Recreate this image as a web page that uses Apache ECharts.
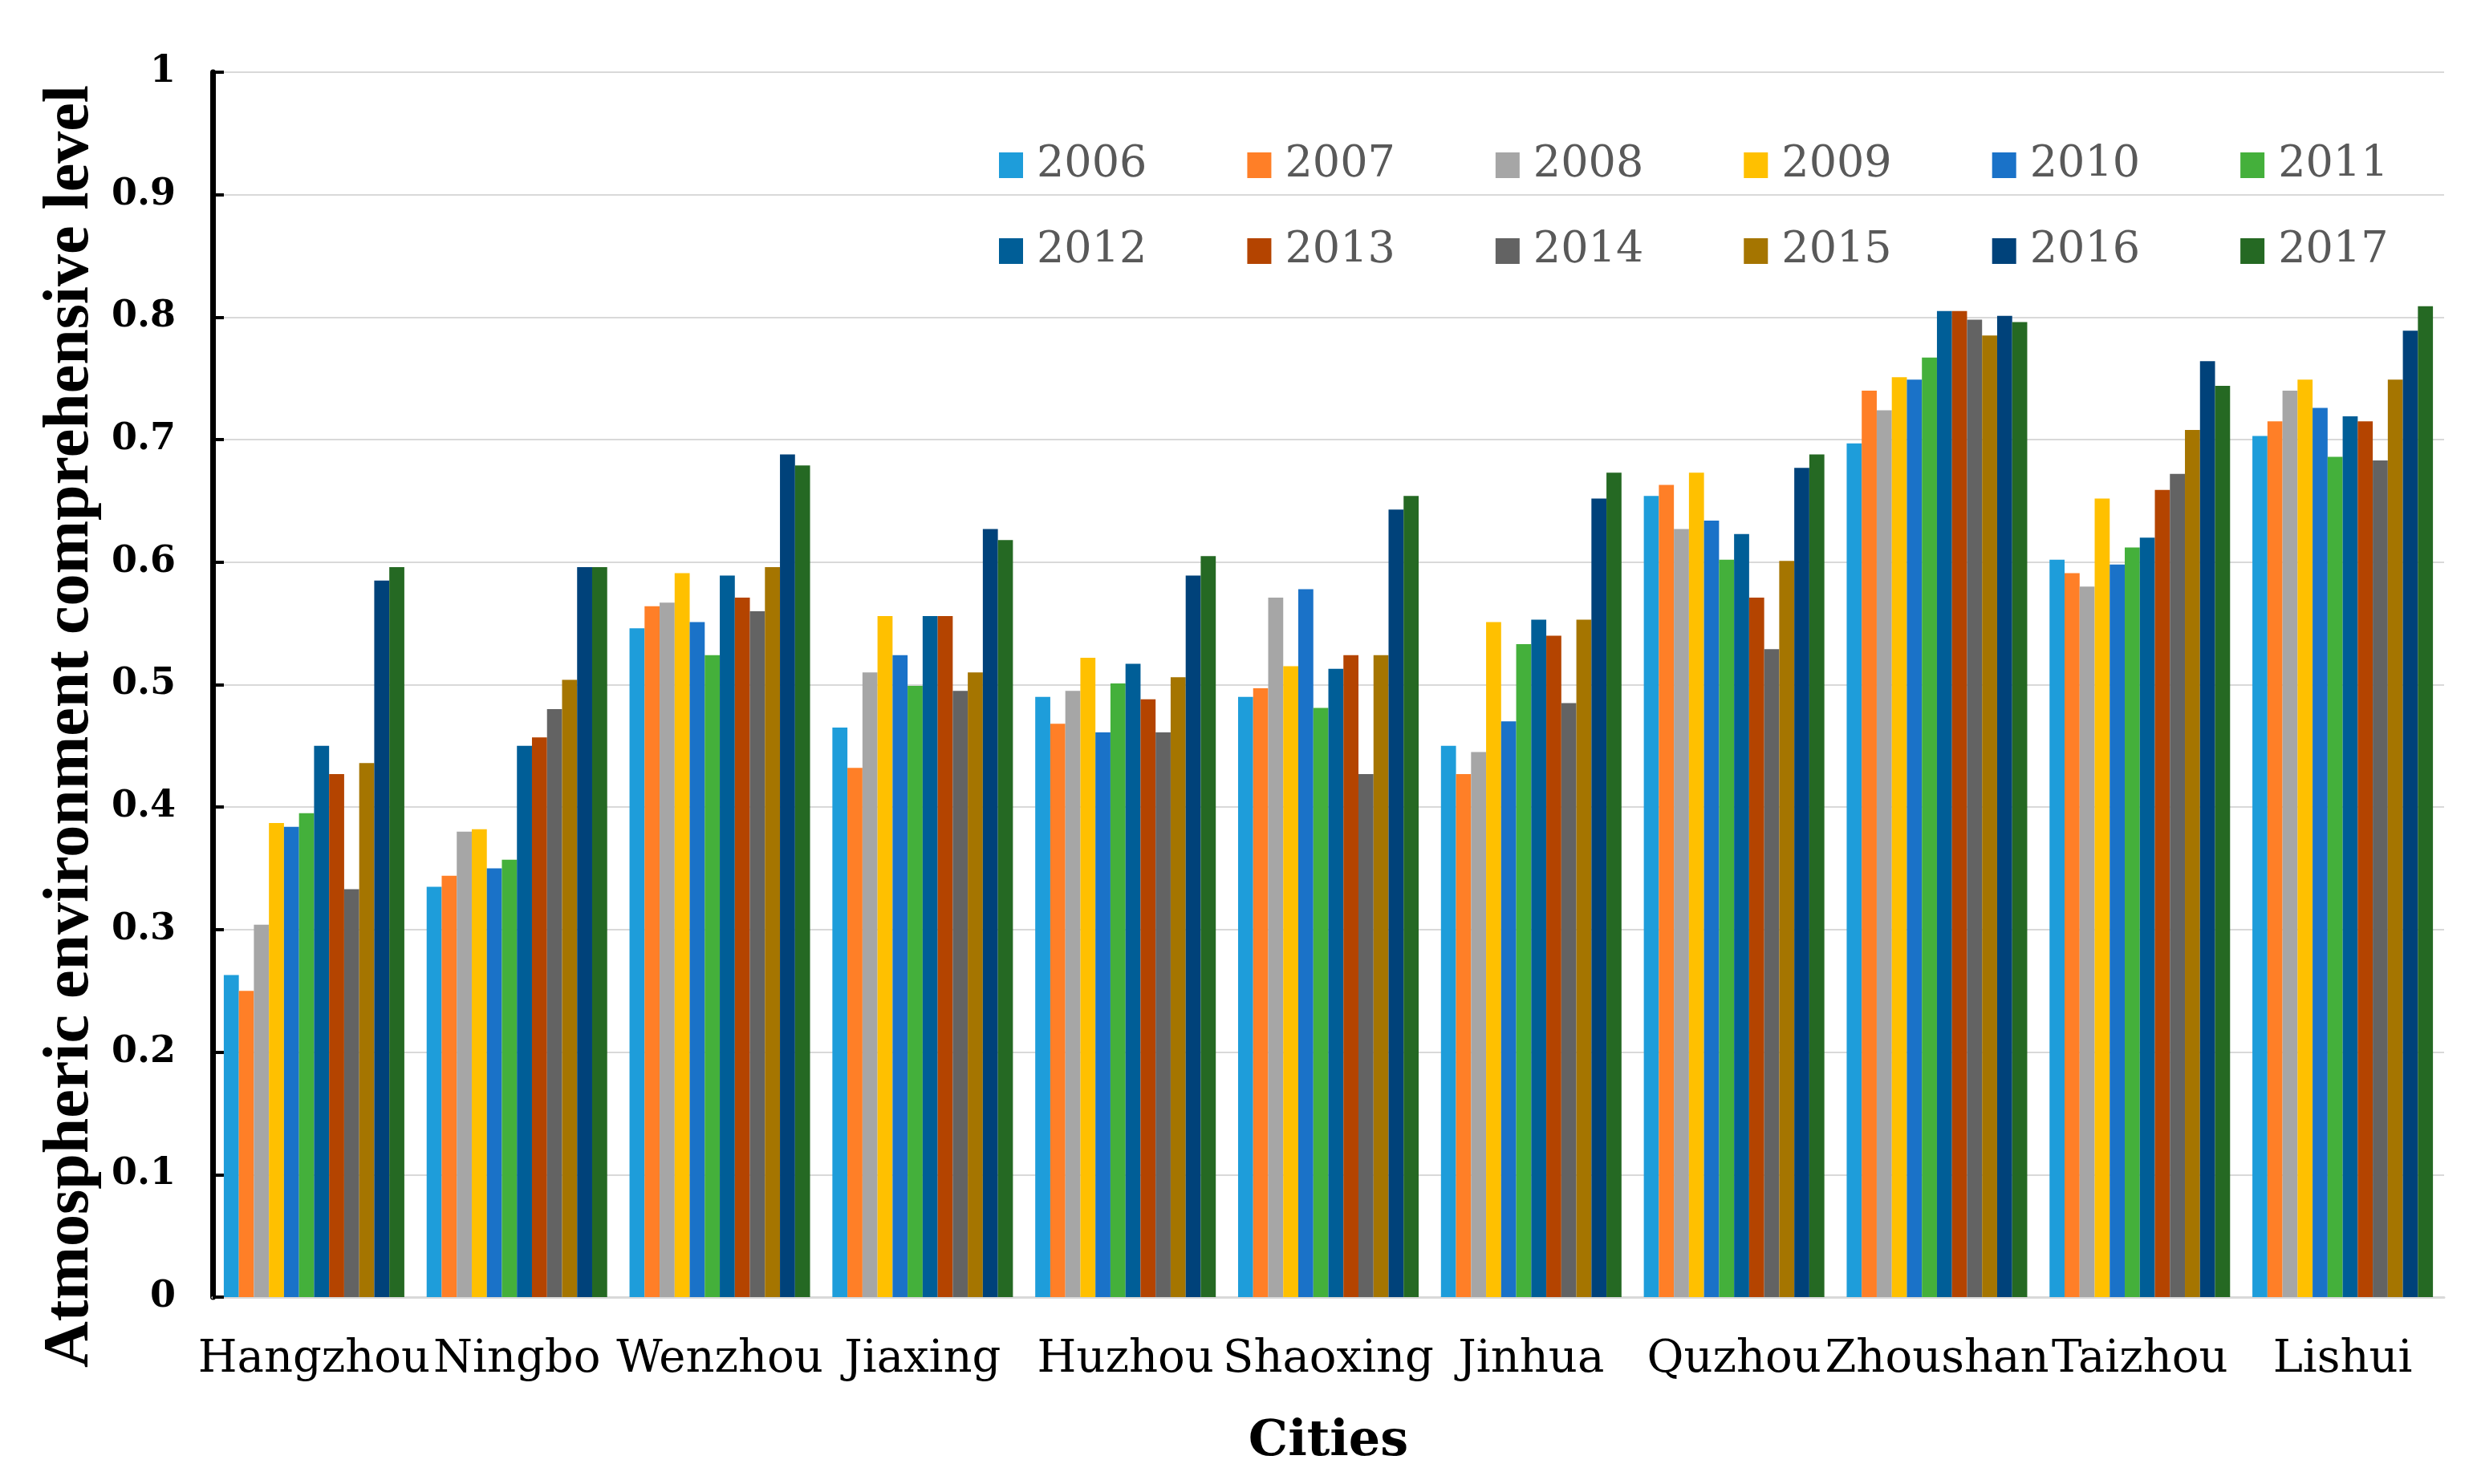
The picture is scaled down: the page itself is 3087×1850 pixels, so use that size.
<!DOCTYPE html>
<html>
<head>
<meta charset="utf-8">
<script src="https://cdn.jsdelivr.net/npm/echarts@6/dist/echarts.min.js"></script>
<style>html,body{margin:0;padding:0;background:#fff}#c{width:3087px;height:1850px}</style>
</head>
<body>
<div id="c"></div>
<script>
const cities = ['Hangzhou','Ningbo','Wenzhou','Jiaxing','Huzhou','Shaoxing','Jinhua','Quzhou','Zhoushan','Taizhou','Lishui'];
const years = ['2006','2007','2008','2009','2010','2011','2012','2013','2014','2015','2016','2017'];
const colors = ['#1E9DDA','#FF7F27','#A6A6A6','#FFC000','#1A72C8','#44B03B','#005E97','#B44400','#636363','#A57500','#00427A','#256923'];
// values per city, 2006..2017
const hangzhou = [0.263,0.250,0.304,0.387,0.384,0.395,0.450,0.427,0.333,0.436,0.585,0.596];
const ningbo   = [0.335,0.344,0.380,0.382,0.350,0.357,0.450,0.457,0.480,0.504,0.596,0.596];
const wenzhou  = [0.546,0.564,0.567,0.591,0.551,0.524,0.589,0.571,0.560,0.596,0.688,0.679];
const jiaxing  = [0.465,0.432,0.510,0.556,0.524,0.499,0.556,0.556,0.495,0.510,0.627,0.618];
const huzhou   = [0.490,0.468,0.495,0.522,0.461,0.501,0.517,0.488,0.461,0.506,0.589,0.605];
const shaoxing = [0.490,0.497,0.571,0.515,0.578,0.481,0.513,0.524,0.427,0.524,0.643,0.654];
const jinhua   = [0.450,0.427,0.445,0.551,0.470,0.533,0.553,0.540,0.485,0.553,0.652,0.673];
const quzhou   = [0.654,0.663,0.627,0.673,0.634,0.602,0.623,0.571,0.529,0.601,0.677,0.688];
const zhoushan = [0.697,0.740,0.724,0.751,0.749,0.767,0.805,0.805,0.798,0.785,0.801,0.796];
const taizhou  = [0.602,0.591,0.580,0.652,0.598,0.612,0.620,0.659,0.672,0.708,0.764,0.744];
const lishui   = [0.703,0.715,0.740,0.749,0.726,0.686,0.719,0.715,0.683,0.749,0.789,0.809];
const yTicks = [0,0.1,0.2,0.3,0.4,0.5,0.6,0.7,0.8,0.9,1];

const byCity = [hangzhou,ningbo,wenzhou,jiaxing,huzhou,shaoxing,jinhua,quzhou,zhoushan,taizhou,lishui];
const series = years.map((y,i)=>({
  name:y, type:'bar', barGap:0, barCategoryGap:'11%',
  itemStyle:{color:colors[i]},
  data: byCity.map(c=>c[i])
}));

const legendCommon = {
  left:1240, itemWidth:30, itemHeight:32, itemGap:125, icon:'rect',
  textStyle:{fontFamily:'DejaVu Serif', fontSize:54, color:'#595959', padding:[0,0,0,12]}
};

const chart = echarts.init(document.getElementById('c'));
chart.setOption({
  animation:false,
  backgroundColor:'#fff',
  color:colors,
  grid:{left:265,right:41,top:90,bottom:233},
  legend:[
    Object.assign({top:174, data:years.slice(0,6)}, legendCommon),
    Object.assign({top:281, data:years.slice(6)}, legendCommon)
  ],
  xAxis:{
    type:'category', data:cities,
    name:'Cities', nameLocation:'middle', nameGap:150,
    nameTextStyle:{fontFamily:'DejaVu Serif', fontWeight:'bold', fontSize:62, color:'#000'},
    axisLine:{lineStyle:{color:'#D9D9D9', width:3}},
    axisTick:{show:false},
    axisLabel:{interval:0, margin:50, fontFamily:'DejaVu Serif', fontSize:56, color:'#000'}
  },
  yAxis:{
    type:'value', min:0, max:1, interval:0.1,
    name:'Atmospheric environment comprehensive level', nameLocation:'middle', nameGap:134,
    nameTextStyle:{fontFamily:'Liberation Serif', fontWeight:'bold', fontSize:80, color:'#000', padding:[0,104,0,0]},
    axisLine:{show:true, lineStyle:{color:'#000', width:7}},
    axisTick:{show:true, inside:true, length:14, lineStyle:{color:'#000', width:4}},
    splitLine:{lineStyle:{color:'#D9D9D9', width:2}},
    axisLabel:{margin:46, fontFamily:'DejaVu Serif', fontWeight:'bold', fontSize:46, color:'#000',
      formatter:v=>String(Math.round(v*10)/10)}
  },
  series:series
});
</script>
</body>
</html>
